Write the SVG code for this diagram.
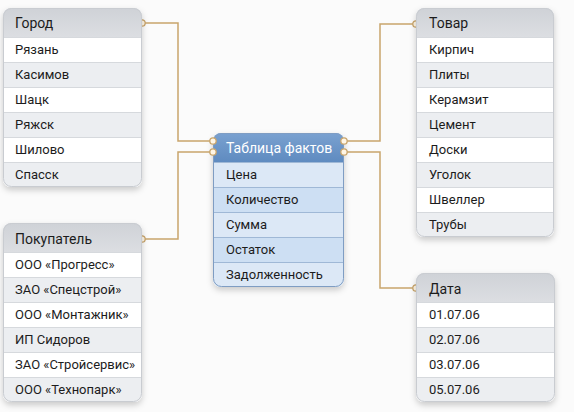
<svg xmlns="http://www.w3.org/2000/svg" width="574" height="412" viewBox="0 0 574 412">
<style>
text{font-family:Roboto,"Liberation Sans",sans-serif;fill:#1c1c1c}
.h{font-size:14px}
.r{font-size:13px}
.hw{font-size:14px;fill:#ffffff}
.hd{fill:url(#gh)}
.w{fill:#ffffff}
.g{fill:#eceef1}
.sep{stroke:#d6d9dd;stroke-width:1}
.frame{fill:none;stroke:#c9ccd1;stroke-width:1}
.bw{fill:#dce8f6}
.bg{fill:#cddff3}
.bsep{stroke:#9fb8d6;stroke-width:1}
.bframe{fill:none;stroke:#7f9dc3;stroke-width:1}
.con{fill:none;stroke:#c9a56c;stroke-width:1.5}
.dot{fill:#fff6e6;stroke:#c9a56c;stroke-width:1.3}
</style>
<defs>
<linearGradient id="gh" x1="0" y1="0" x2="0" y2="1"><stop offset="0" stop-color="#cfd2d7"/><stop offset="1" stop-color="#dcdee2"/></linearGradient>
<linearGradient id="gb" x1="0" y1="0" x2="0" y2="1"><stop offset="0" stop-color="#7aa1d0"/><stop offset="1" stop-color="#5f8bc0"/></linearGradient>
<filter id="sh" x="-20%" y="-20%" width="140%" height="140%"><feDropShadow dx="0" dy="3" stdDeviation="3" flood-color="#000" flood-opacity="0.2"/></filter>
<clipPath id="c1"><rect x="3" y="8" width="139" height="179" rx="8"/></clipPath>
<clipPath id="c2"><rect x="3" y="223" width="139" height="179" rx="8"/></clipPath>
<clipPath id="c3"><rect x="416" y="8" width="138" height="229" rx="8"/></clipPath>
<clipPath id="c4"><rect x="416" y="273" width="139" height="129" rx="8"/></clipPath>
<clipPath id="c5"><rect x="213" y="133" width="131" height="154" rx="8"/></clipPath>
</defs>
<rect width="574" height="412" fill="#fbfbfb"/>

<g id="connectors">
<path class="con" d="M142,23 H178 V141 H213"/>
<path class="con" d="M142,239 H178 V152 H213"/>
<path class="con" d="M416,24 H380 V141 H344"/>
<path class="con" d="M416,288 H380 V152 H344"/>
<circle class="dot" cx="142" cy="23" r="3.2"/>
<circle class="dot" cx="142" cy="239" r="3.2"/>
<circle class="dot" cx="416" cy="24" r="3.2"/>
<circle class="dot" cx="416" cy="288" r="3.2"/>
</g>

<g id="gorod">
<rect x="3" y="8" width="139" height="179" rx="8" fill="#fff" filter="url(#sh)"/>
<g clip-path="url(#c1)">
<rect class="hd" x="3" y="8" width="139" height="29"/>
<rect class="w" x="3" y="37" width="139" height="25"/>
<rect class="g" x="3" y="62" width="139" height="25"/>
<rect class="w" x="3" y="87" width="139" height="25"/>
<rect class="g" x="3" y="112" width="139" height="25"/>
<rect class="w" x="3" y="137" width="139" height="25"/>
<rect class="g" x="3" y="162" width="139" height="25"/>
<path class="sep" d="M3,37.5H142M3,62.5H142M3,87.5H142M3,112.5H142M3,137.5H142M3,162.5H142"/>
</g>
<rect class="frame" x="3.5" y="8.5" width="138" height="178" rx="8"/>
<text class="h" x="15" y="28">Город</text>
<text class="r" x="15" y="54">Рязань</text>
<text class="r" x="15" y="79">Касимов</text>
<text class="r" x="15" y="104">Шацк</text>
<text class="r" x="15" y="129">Ряжск</text>
<text class="r" x="15" y="154">Шилово</text>
<text class="r" x="15" y="179">Спасск</text>
</g>

<g id="pokupatel">
<rect x="3" y="223" width="139" height="179" rx="8" fill="#fff" filter="url(#sh)"/>
<g clip-path="url(#c2)">
<rect class="hd" x="3" y="223" width="139" height="29"/>
<rect class="w" x="3" y="252" width="139" height="25"/>
<rect class="g" x="3" y="277" width="139" height="25"/>
<rect class="w" x="3" y="302" width="139" height="25"/>
<rect class="g" x="3" y="327" width="139" height="25"/>
<rect class="w" x="3" y="352" width="139" height="25"/>
<rect class="g" x="3" y="377" width="139" height="25"/>
<path class="sep" d="M3,252.5H142M3,277.5H142M3,302.5H142M3,327.5H142M3,352.5H142M3,377.5H142"/>
</g>
<rect class="frame" x="3.5" y="223.5" width="138" height="178" rx="8"/>
<text class="h" x="15" y="244">Покупатель</text>
<text class="r" x="15" y="269">ООО «Прогресс»</text>
<text class="r" x="15" y="294">ЗАО «Спецстрой»</text>
<text class="r" x="15" y="319">ООО «Монтажник»</text>
<text class="r" x="15" y="344">ИП Сидоров</text>
<text class="r" x="15" y="369">ЗАО «Стройсервис»</text>
<text class="r" x="15" y="394">ООО «Технопарк»</text>
</g>

<g id="tovar">
<rect x="416" y="8" width="138" height="229" rx="8" fill="#fff" filter="url(#sh)"/>
<g clip-path="url(#c3)">
<rect class="hd" x="416" y="8" width="138" height="29"/>
<rect class="w" x="416" y="37" width="138" height="25"/>
<rect class="g" x="416" y="62" width="138" height="25"/>
<rect class="w" x="416" y="87" width="138" height="25"/>
<rect class="g" x="416" y="112" width="138" height="25"/>
<rect class="w" x="416" y="137" width="138" height="25"/>
<rect class="g" x="416" y="162" width="138" height="25"/>
<rect class="w" x="416" y="187" width="138" height="25"/>
<rect class="g" x="416" y="212" width="138" height="25"/>
<path class="sep" d="M416,37.5H554M416,62.5H554M416,87.5H554M416,112.5H554M416,137.5H554M416,162.5H554M416,187.5H554M416,212.5H554"/>
</g>
<rect class="frame" x="416.5" y="8.5" width="137" height="228" rx="8"/>
<text class="h" x="429" y="28">Товар</text>
<text class="r" x="429" y="54">Кирпич</text>
<text class="r" x="429" y="79">Плиты</text>
<text class="r" x="429" y="104">Керамзит</text>
<text class="r" x="429" y="129">Цемент</text>
<text class="r" x="429" y="154">Доски</text>
<text class="r" x="429" y="179">Уголок</text>
<text class="r" x="429" y="204">Швеллер</text>
<text class="r" x="429" y="229">Трубы</text>
</g>

<g id="data">
<rect x="416" y="273" width="139" height="129" rx="8" fill="#fff" filter="url(#sh)"/>
<g clip-path="url(#c4)">
<rect class="hd" x="416" y="273" width="139" height="29"/>
<rect class="w" x="416" y="302" width="139" height="25"/>
<rect class="g" x="416" y="327" width="139" height="25"/>
<rect class="w" x="416" y="352" width="139" height="25"/>
<rect class="g" x="416" y="377" width="139" height="25"/>
<path class="sep" d="M416,302.5H555M416,327.5H555M416,352.5H555M416,377.5H555"/>
</g>
<rect class="frame" x="416.5" y="273.5" width="138" height="128" rx="8"/>
<text class="h" x="429" y="294">Дата</text>
<text class="r" x="429" y="319">01.07.06</text>
<text class="r" x="429" y="344">02.07.06</text>
<text class="r" x="429" y="369">03.07.06</text>
<text class="r" x="429" y="394">05.07.06</text>
</g>

<g id="fact">
<rect x="213" y="133" width="131" height="154" rx="8" fill="#dce8f6" filter="url(#sh)"/>
<g clip-path="url(#c5)">
<rect x="213" y="133" width="131" height="29" fill="url(#gb)"/>
<rect class="bw" x="213" y="162" width="131" height="25"/>
<rect class="bg" x="213" y="187" width="131" height="25"/>
<rect class="bw" x="213" y="212" width="131" height="25"/>
<rect class="bg" x="213" y="237" width="131" height="25"/>
<rect class="bw" x="213" y="262" width="131" height="25"/>
<path class="bsep" d="M213,162.5H344M213,187.5H344M213,212.5H344M213,237.5H344M213,262.5H344"/>
</g>
<rect class="bframe" x="213.5" y="133.5" width="130" height="153" rx="8"/>
<circle class="dot" cx="213" cy="141" r="3.2"/>
<circle class="dot" cx="213" cy="152" r="3.2"/>
<circle class="dot" cx="344" cy="141" r="3.2"/>
<circle class="dot" cx="344" cy="152" r="3.2"/>
<text class="hw" x="226" y="153">Таблица фактов</text>
<text class="r" x="226" y="179">Цена</text>
<text class="r" x="226" y="204">Количество</text>
<text class="r" x="226" y="229">Сумма</text>
<text class="r" x="226" y="254">Остаток</text>
<text class="r" x="226" y="279">Задолженность</text>
</g>
</svg>
